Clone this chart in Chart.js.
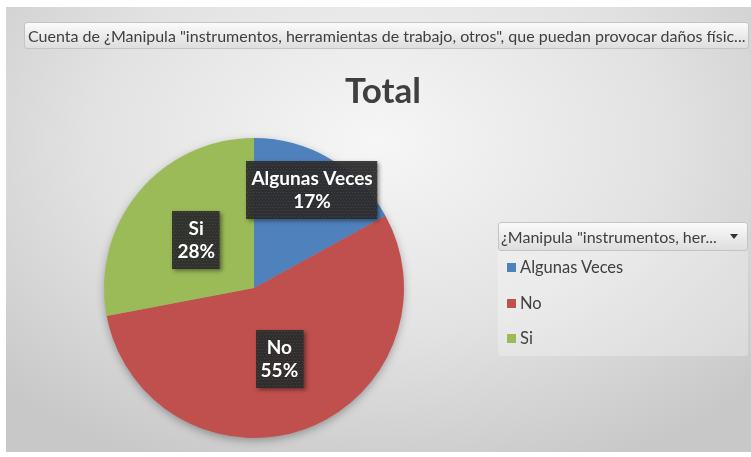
<!DOCTYPE html>
<html>
<head>
<meta charset="utf-8">
<script src="https://cdn.jsdelivr.net/npm/chart.js@4/dist/chart.umd.min.js"></script>
<style>
  html, body { margin: 0; padding: 0; background: #ffffff; }
  body { width: 751px; height: 457px; position: relative; overflow: hidden; font-family: Lato, "Open Sans", sans-serif; }
  #bg { position: absolute; left: 6px; top: 7px; width: 745px; height: 445px;
        background: radial-gradient(ellipse 70% 80% at 50% 30%, #f6f6f6 0%, #e2e2e2 55%, #c8c8c8 100%); }
  #wrap { position: absolute; left: 0; top: 0; width: 751px; height: 457px; }
  .fieldbtn { position: absolute; box-sizing: border-box; border: 1px solid #c4c4c4; border-radius: 3px;
        background: linear-gradient(#fbfbfb, #e9e9e9 60%, #dedede); color: #404040; white-space: nowrap; overflow: hidden; }
  #topbtn { left: 24px; top: 22px; width: 725px; height: 27px; font-size: 16px; line-height: 25px; padding-left: 3px; }
  #title { position: absolute; left: 283px; width: 200px; top: 68px; text-align: center; font-weight: bold; font-size: 35px; color: #3f3f3f; }
  #legend { position: absolute; left: 498px; top: 222px; width: 250px; height: 134px; background: rgba(255,255,255,0.28); border-radius: 3px; }
  #leghead { left: 0; top: 0; width: 250px; height: 29px; font-size: 16px; line-height: 27px; padding-left: 2px; }
  #leghead .arrow { position: absolute; right: 9px; top: 11px; width: 0; height: 0; border-left: 4px solid transparent; border-right: 4px solid transparent; border-top: 5px solid #333; }
  .item { position: absolute; left: 9px; font-size: 16.5px; color: #404040; line-height: 20px; }
  .item .sw { display: inline-block; width: 9px; height: 9px; margin-right: 4px; vertical-align: 1px; }
</style>
</head>
<body>
<div id="bg"></div>
<div id="wrap"><canvas id="c" width="751" height="457"></canvas></div>
<div id="topbtn" class="fieldbtn"></div>
<div id="title"></div>
<div id="legend"><div id="leghead" class="fieldbtn"><span id="legtext"></span><span class="arrow"></span></div></div>
<script>
// ---- data ----
const chartTitle = 'Total';
const fieldLabel = 'Cuenta de ¿Manipula "instrumentos, herramientas de trabajo, otros", que puedan provocar daños físic...';
const legendLabel = '¿Manipula "instrumentos, her...';
const categories = ['Algunas Veces', 'No', 'Si'];
const values = [17, 55, 28];

// ---- styles ----
const sliceColors = ['#4f81bd', '#c0504d', '#9bbb59'];
const labelRadius = [0.76, 0.5, 0.5];

document.getElementById('topbtn').textContent = fieldLabel;
document.getElementById('title').textContent = chartTitle;
document.getElementById('legtext').textContent = legendLabel;
const legend = document.getElementById('legend');
const itemTops = [35, 71, 106];
categories.forEach((c, i) => {
  const d = document.createElement('div');
  d.className = 'item';
  d.style.top = itemTops[i] + 'px';
  const sw = document.createElement('span');
  sw.className = 'sw';
  sw.style.background = sliceColors[i];
  d.appendChild(sw);
  d.appendChild(document.createTextNode(c));
  legend.appendChild(d);
});

const pieShadow = {
  id: 'pieShadow',
  beforeDatasetsDraw(chart) {
    const arc = chart.getDatasetMeta(0).data[0];
    if (!arc) return;
    const ctx = chart.ctx;
    ctx.save();
    ctx.shadowColor = 'rgba(0,0,0,0.35)';
    ctx.shadowBlur = 10;
    ctx.shadowOffsetY = 3;
    ctx.fillStyle = '#999';
    ctx.beginPath();
    ctx.arc(arc.x, arc.y, arc.outerRadius - 1, 0, Math.PI * 2);
    ctx.fill();
    ctx.restore();
  }
};

const boxLabels = {
  id: 'boxLabels',
  afterDatasetsDraw(chart) {
    const ctx = chart.ctx;
    const meta = chart.getDatasetMeta(0);
    const data = chart.data.datasets[0].data;
    const total = data.reduce((a, b) => a + b, 0);
    ctx.save();
    ctx.font = 'bold 19px Lato, "Open Sans", sans-serif';
    meta.data.forEach((arc, i) => {
      const mid = (arc.startAngle + arc.endAngle) / 2;
      const r = arc.outerRadius * labelRadius[i];
      const cx = arc.x + Math.cos(mid) * r;
      const cy = arc.y + Math.sin(mid) * r;
      const l1 = chart.data.labels[i];
      const l2 = Math.round(data[i] / total * 100) + '%';
      const w = Math.max(ctx.measureText(l1).width, ctx.measureText(l2).width) + 10;
      const h = 58;
      const x0 = Math.round(cx - w / 2), y0 = Math.round(cy - h / 2);
      ctx.save();
      ctx.shadowColor = 'rgba(0,0,0,0.45)';
      ctx.shadowBlur = 4;
      ctx.shadowOffsetX = 2;
      ctx.shadowOffsetY = 2;
      ctx.fillStyle = 'rgba(45,45,45,0.93)';
      ctx.fillRect(x0, y0, w, h);
      ctx.restore();
      // dotted texture
      ctx.fillStyle = 'rgba(110,110,110,0.35)';
      for (let yy = y0 + 1; yy < y0 + h; yy += 3) {
        for (let xx = x0 + ((yy - y0) % 6 === 1 ? 1 : 2.5); xx < x0 + w; xx += 3) {
          ctx.fillRect(xx, yy, 1, 1);
        }
      }
      ctx.fillStyle = '#ffffff';
      ctx.textAlign = 'center';
      ctx.textBaseline = 'middle';
      ctx.fillText(l1, cx, cy - 11);
      ctx.fillText(l2, cx, cy + 12);
    });
    ctx.restore();
  }
};

new Chart(document.getElementById('c'), {
  type: 'pie',
  data: {
    labels: categories,
    datasets: [{ data: values, backgroundColor: sliceColors, borderWidth: 0, hoverOffset: 0 }]
  },
  options: {
    responsive: false,
    animation: false,
    rotation: 0,
    layout: { padding: { left: 104, right: 347, top: 138, bottom: 19 } },
    plugins: { legend: { display: false }, tooltip: { enabled: false }, title: { display: false } }
  },
  plugins: [pieShadow, boxLabels]
});
</script>
</body>
</html>
